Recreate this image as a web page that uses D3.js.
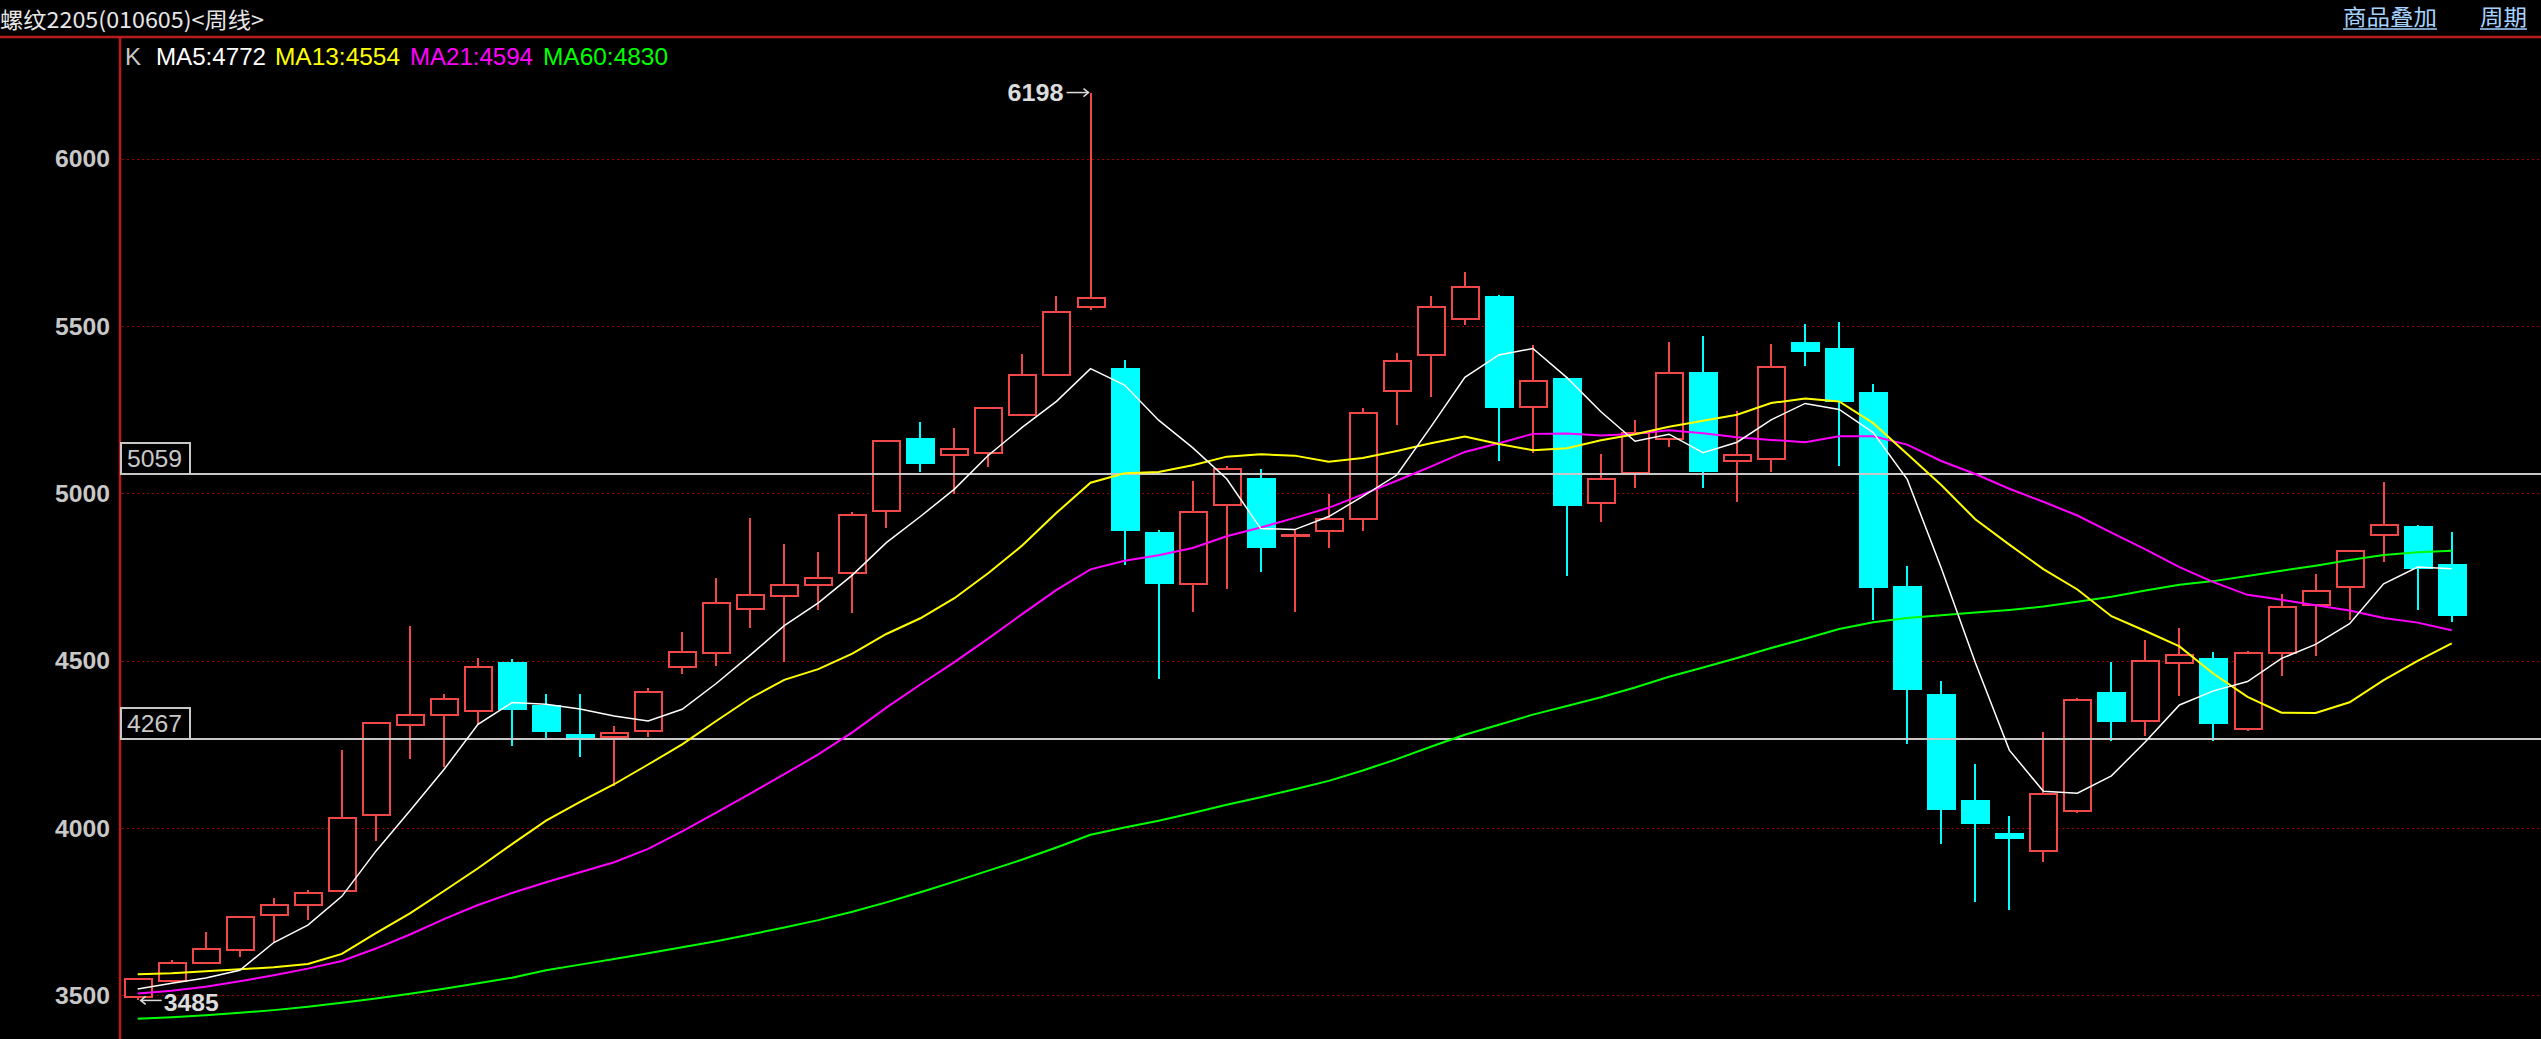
<!DOCTYPE html>
<html><head><meta charset="utf-8">
<script src="https://cdn.jsdelivr.net/npm/d3@7"></script>
<style>html,body{margin:0;padding:0;background:#000;overflow:hidden}</style>
</head><body>
<svg id="chart" width="2541" height="1039"></svg>
<script>
// ---- data (weekly bars) ----
const opens  = [3495,3543,3596,3637,3740,3769,3813,4039,4309,4338,4349,4496,4369,4280,4271,4289,4481,4523,4654,4695,4725,4763,4947,5165,5115,5120,5234,5355,5557,5375,4884,4728,4965,5046,4872,4887,4924,5306,5415,5520,5589,5258,5345,4971,5062,5162,5362,5096,5102,5452,5435,5304,4723,4401,4084,3984,3932,4051,4406,4320,4494,4507,4296,4524,4668,4721,4876,4902,4789];
const highs  = [3552,3605,3690,3735,3790,3815,4234,4315,4604,4400,4507,4504,4402,4402,4304,4419,4587,4747,4926,4849,4825,4944,5160,5213,5195,5256,5417,5591,6198,5398,4890,5038,5081,5074,4892,4998,5254,5421,5591,5661,5592,5444,5347,5118,5219,5452,5470,5247,5446,5506,5512,5326,4783,4441,4191,4036,4287,4389,4497,4562,4597,4525,4530,4699,4758,4831,5033,4907,4884];
const lows   = [3485,3540,3596,3614,3660,3725,3813,3960,4205,4183,4307,4246,4265,4211,4127,4271,4461,4485,4599,4496,4651,4642,4896,5064,4997,5078,5234,5355,5549,4787,4444,4647,4714,4765,4647,4838,4887,5205,5288,5503,5096,5120,4754,4916,5017,5138,5016,4975,5064,5382,5083,4621,4252,3952,3779,3756,3900,4045,4260,4276,4396,4260,4290,4455,4515,4622,4796,4652,4617];
const closes = [3549,3597,3640,3735,3770,3807,4029,4315,4339,4387,4482,4353,4288,4269,4285,4406,4525,4673,4696,4727,4746,4937,5158,5089,5134,5254,5355,5541,5583,4887,4730,4944,5074,4838,4876,4924,5241,5397,5557,5618,5256,5337,4963,5044,5180,5361,5064,5116,5379,5424,5274,4718,4414,4055,4012,3966,4102,4383,4318,4500,4517,4312,4524,4662,4709,4829,4907,4773,4635];

const ma5  = [3519,3536,3552,3575,3658,3710,3796,3931,4052,4175,4310,4375,4370,4356,4335,4320,4355,4432,4517,4605,4673,4756,4853,4931,5013,5114,5198,5275,5373,5324,5219,5137,5044,4895,4892,4931,4991,5055,5199,5347,5414,5433,5346,5244,5156,5177,5122,5153,5220,5269,5251,5182,5042,4777,4495,4233,4110,4104,4156,4258,4368,4410,4438,4507,4549,4611,4730,4780,4775];
const ma13 = [3563,3566,3572,3578,3584,3594,3624,3686,3745,3812,3880,3952,4022,4078,4131,4190,4250,4320,4388,4443,4475,4521,4580,4627,4687,4762,4845,4942,5032,5060,5064,5084,5110,5117,5113,5095,5106,5127,5150,5170,5148,5129,5135,5159,5177,5199,5217,5235,5270,5284,5275,5210,5118,5025,4923,4847,4774,4713,4633,4589,4543,4461,4392,4345,4344,4376,4442,4500,4552];
const ma21 = [3506,3514,3526,3542,3560,3580,3603,3640,3682,3728,3770,3806,3838,3868,3898,3938,3990,4046,4103,4161,4220,4286,4360,4429,4496,4567,4640,4712,4773,4799,4815,4837,4872,4898,4927,4957,4997,5038,5080,5124,5150,5178,5179,5173,5178,5189,5180,5168,5160,5153,5171,5171,5146,5097,5058,5014,4975,4934,4883,4833,4780,4735,4697,4682,4666,4650,4628,4614,4591];
const ma60 = [3430,3435,3441,3448,3456,3466,3478,3491,3505,3520,3536,3553,3575,3592,3609,3626,3644,3662,3682,3703,3725,3750,3778,3808,3840,3873,3906,3942,3980,4002,4022,4045,4070,4092,4116,4141,4172,4206,4243,4279,4309,4339,4365,4391,4420,4452,4480,4508,4538,4566,4595,4615,4628,4636,4644,4652,4662,4676,4691,4710,4727,4738,4753,4769,4784,4801,4816,4824,4829];

const yTicks = [3500,4000,4500,5000,5500,6000];
const refLines = [5059,4267];
const legendNames = ["MA5","MA13","MA21","MA60"];
const legendVals = [4772,4554,4594,4830];
const titleText = "螺纹2205(010605)<周线>";
const menuTexts = ["商品叠加","周期"];

// ---- drawing ----
const W = 2541, H = 1039;
const svg = d3.select("#chart");
svg.append("rect").attr("width",W).attr("height",H).attr("fill","#000");

const n = closes.length;
const x = d3.scaleLinear().domain([0, n-1]).range([137.7, 2451.7]);
const y = d3.scaleLinear().domain([3500, 6000]).range([995.4, 158.8]);
const AX = 120, TOP = 37;
const RED = "#f04848", CYAN = "#00ffff", AXRED = "#b81c1c";

// header
svg.append("text").attr("x",0).attr("y",28).text(titleText)
  .attr("font-family","'Noto Sans CJK SC',sans-serif").attr("font-size",22)
  .attr("fill","#e6e6e6").attr("textLength",264).attr("lengthAdjust","spacingAndGlyphs");
const menuX = [2343, 2480], menuW = [94, 47];
menuTexts.forEach((t,i)=>{
  svg.append("text").attr("x",menuX[i]).attr("y",25).text(t)
    .attr("font-family","'Noto Sans CJK SC',sans-serif").attr("font-size",22)
    .attr("fill","#a6d2ff").attr("textLength",menuW[i]).attr("lengthAdjust","spacingAndGlyphs");
  svg.append("line").attr("x1",menuX[i]).attr("x2",menuX[i]+menuW[i]).attr("y1",29).attr("y2",29)
    .attr("stroke","#a6d2ff").attr("stroke-width",1.5);
});
svg.append("line").attr("x1",0).attr("x2",W).attr("y1",TOP).attr("y2",TOP)
  .attr("stroke",AXRED).attr("stroke-width",2.5);
svg.append("line").attr("x1",AX).attr("x2",AX).attr("y1",TOP).attr("y2",H)
  .attr("stroke",AXRED).attr("stroke-width",2.5);

// legend
const legendColors = ["#ffffff","#ffff00","#ff00ff","#00ff00"];
const legendX = [156, 275, 410, 543], legendW = [110, 125, 123, 125];
svg.append("text").attr("x",125).attr("y",65).text("K")
  .attr("font-family","'Liberation Sans',Arial,sans-serif").attr("font-size",24).attr("fill","#c8c8c8");
legendNames.forEach((nm,i)=>{
  svg.append("text").attr("x",legendX[i]).attr("y",65).text(nm+":"+legendVals[i])
    .attr("font-family","'Liberation Sans',Arial,sans-serif").attr("font-size",24)
    .attr("fill",legendColors[i]).attr("textLength",legendW[i]).attr("lengthAdjust","spacingAndGlyphs");
});

// grid + y labels
const grid = svg.append("g");
yTicks.forEach(v=>{
  grid.append("line").attr("x1",AX+2).attr("x2",W).attr("y1",Math.round(y(v))+0.5).attr("y2",Math.round(y(v))+0.5)
    .attr("stroke","#a00000").attr("stroke-width",1.2).attr("stroke-dasharray","2,3");
  grid.append("text").attr("x",110).attr("y",y(v)).attr("dy","0.36em").attr("text-anchor","end")
    .text(v).attr("font-family","'Liberation Sans',Arial,sans-serif").attr("font-weight","bold")
    .attr("font-size",24).attr("fill","#c8c8c8").attr("textLength",55).attr("lengthAdjust","spacingAndGlyphs");
});

// candles
const cg = svg.append("g").attr("shape-rendering","crispEdges");
const BW = 29;
d3.range(n).forEach(i=>{
  const cx = Math.round(x(i));
  const o=opens[i], c=closes[i], h=highs[i], l=lows[i];
  if (c >= o) {
    const yt = y(c), yb = y(o);
    cg.append("line").attr("x1",cx).attr("x2",cx).attr("y1",y(h)).attr("y2",yt).attr("stroke",RED).attr("stroke-width",2);
    cg.append("line").attr("x1",cx).attr("x2",cx).attr("y1",yb).attr("y2",y(l)).attr("stroke",RED).attr("stroke-width",2);
    cg.append("rect").attr("x",cx-BW/2+1).attr("y",yt).attr("width",BW-2).attr("height",Math.max(yb-yt,1))
      .attr("fill","#000").attr("stroke",RED).attr("stroke-width",2);
  } else {
    const yt = y(o), yb = y(c);
    cg.append("line").attr("x1",cx).attr("x2",cx).attr("y1",y(h)).attr("y2",y(l)).attr("stroke",CYAN).attr("stroke-width",2);
    cg.append("rect").attr("x",cx-BW/2).attr("y",yt).attr("width",BW).attr("height",Math.max(yb-yt,3))
      .attr("fill",CYAN);
  }
});

// reference lines with boxes
refLines.forEach(v=>{
  const yy = Math.round(y(v));
  svg.append("line").attr("x1",AX).attr("x2",W).attr("y1",yy).attr("y2",yy)
    .attr("stroke","#c8c8c8").attr("stroke-width",2);
  svg.append("rect").attr("x",AX+1).attr("y",yy-31).attr("width",69).attr("height",31)
    .attr("fill","#000").attr("stroke","#c8c8c8").attr("stroke-width",2);
  svg.append("text").attr("x",127).attr("y",yy-7).text(v)
    .attr("font-family","'Liberation Sans',Arial,sans-serif").attr("font-size",24)
    .attr("fill","#c8c8c8").attr("textLength",55).attr("lengthAdjust","spacingAndGlyphs");
});

// moving averages
const line = d3.line().x((d,i)=>x(i)).y(d=>y(d));
[[ma60,"#00ff00",2],[ma21,"#ff00ff",2],[ma13,"#ffff00",2],[ma5,"#ffffff",1.5]].forEach(([arr,col,w])=>{
  svg.append("path").attr("d",line(arr)).attr("fill","none").attr("stroke",col).attr("stroke-width",w);
});

// max / min annotations
const iMax = d3.maxIndex(highs), iMin = d3.minIndex(lows);
const yMax = y(highs[iMax]), xMax = x(iMax);
svg.append("text").attr("x",xMax-27).attr("y",yMax).attr("dy","0.36em").attr("text-anchor","end")
  .text(highs[iMax]).attr("font-family","'Liberation Sans',Arial,sans-serif").attr("font-weight","bold")
  .attr("font-size",24).attr("fill","#dcdcdc").attr("textLength",56).attr("lengthAdjust","spacingAndGlyphs");
svg.append("line").attr("x1",xMax-24).attr("x2",xMax-2).attr("y1",yMax).attr("y2",yMax).attr("stroke","#dcdcdc").attr("stroke-width",1.5);
svg.append("path").attr("d",`M${xMax-7},${yMax-4}L${xMax-2},${yMax}L${xMax-7},${yMax+4}`).attr("fill","none").attr("stroke","#dcdcdc").attr("stroke-width",1.5);

const yMin = y(lows[iMin]), xMin = x(iMin);
svg.append("line").attr("x1",xMin+3).attr("x2",xMin+24).attr("y1",yMin).attr("y2",yMin).attr("stroke","#dcdcdc").attr("stroke-width",1.5);
svg.append("path").attr("d",`M${xMin+8},${yMin-4}L${xMin+3},${yMin}L${xMin+8},${yMin+4}`).attr("fill","none").attr("stroke","#dcdcdc").attr("stroke-width",1.5);
svg.append("text").attr("x",xMin+26).attr("y",yMin+2).attr("dy","0.36em")
  .text(lows[iMin]).attr("font-family","'Liberation Sans',Arial,sans-serif").attr("font-weight","bold")
  .attr("font-size",24).attr("fill","#dcdcdc").attr("textLength",55).attr("lengthAdjust","spacingAndGlyphs");
</script>
</body></html>
